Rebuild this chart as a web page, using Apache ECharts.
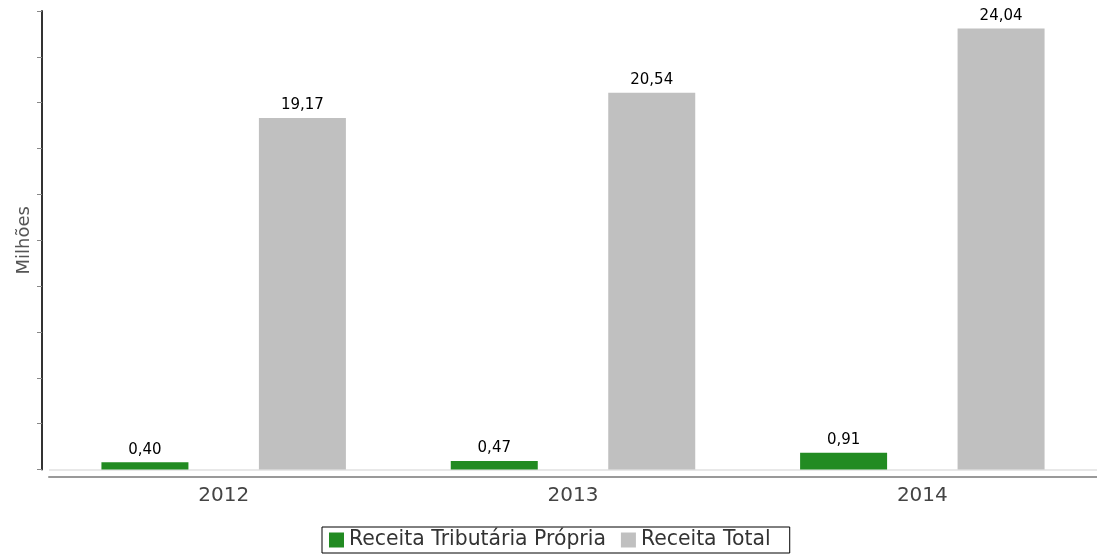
<!DOCTYPE html>
<html>
<head>
<meta charset="utf-8">
<script src="https://cdn.jsdelivr.net/npm/echarts@6/dist/echarts.min.js"></script>
<style>html,body{margin:0;padding:0;background:#fff}#c{width:1097px;height:555px}</style>
</head>
<body>
<div id="c"></div>
<script>
const categories = ['2012', '2013', '2014'];
const receitaTributaria = [0.40, 0.47, 0.91];
const receitaTotal = [19.17, 20.54, 24.04];
const seriesNames = ['Receita Tributária Própria', 'Receita Total'];
const yAxisName = 'Milhões';

const FONT = 'DejaVu Sans';
const fmt = v => v.toFixed(2).replace('.', ',');
const labelCfg = {
  show: true, position: 'top', distance: 5,
  fontFamily: FONT, fontSize: 15, color: '#000',
  formatter: p => fmt(p.value)
};
const clear = 'rgba(0,0,0,0)';
const chart = echarts.init(document.getElementById('c'), null, {renderer: 'canvas'});
chart.setOption({
  animation: false,
  textStyle: {fontFamily: FONT},
  grid: {left: 49, width: 1051, top: 11, bottom: 85.5, containLabel: false},
  legend: {
    left: 322, top: 527,
    padding: [3, 19, 3, 7], itemGap: 15, itemWidth: 15, itemHeight: 15,
    borderColor: '#000', borderWidth: 1,
    icon: 'rect',
    textStyle: {fontFamily: FONT, fontSize: 20.4, color: '#333'},
    data: seriesNames
  },
  xAxis: {
    type: 'category', data: categories, offset: 7,
    axisLine: {onZero: false, lineStyle: {color: '#999', width: 2}},
    axisTick: {show: false},
    axisLabel: {fontFamily: FONT, fontSize: 20, color: '#444', margin: 9}
  },
  yAxis: {
    type: 'value', min: 0, max: 25, interval: 2.5, offset: 7,
    name: yAxisName, nameLocation: 'middle', nameGap: 9,
    nameTextStyle: {fontFamily: FONT, fontSize: 18, color: '#555'},
    axisLine: {show: true, lineStyle: {color: '#333', width: 2}},
    axisTick: {show: true, length: 5, lineStyle: {color: '#888'}},
    axisLabel: {show: false},
    splitLine: {show: true, lineStyle: {color: ['#e8e8e8', clear, clear, clear, clear, clear, clear, clear, clear, clear, clear], width: 2}}
  },
  series: [
    {name: seriesNames[0], type: 'bar', data: receitaTributaria, barWidth: 87, barGap: '81%',
     itemStyle: {color: '#228B22'}, label: labelCfg},
    {name: seriesNames[1], type: 'bar', data: receitaTotal, barWidth: 87,
     itemStyle: {color: '#C0C0C0'}, label: labelCfg}
  ]
});
</script>
</body>
</html>
